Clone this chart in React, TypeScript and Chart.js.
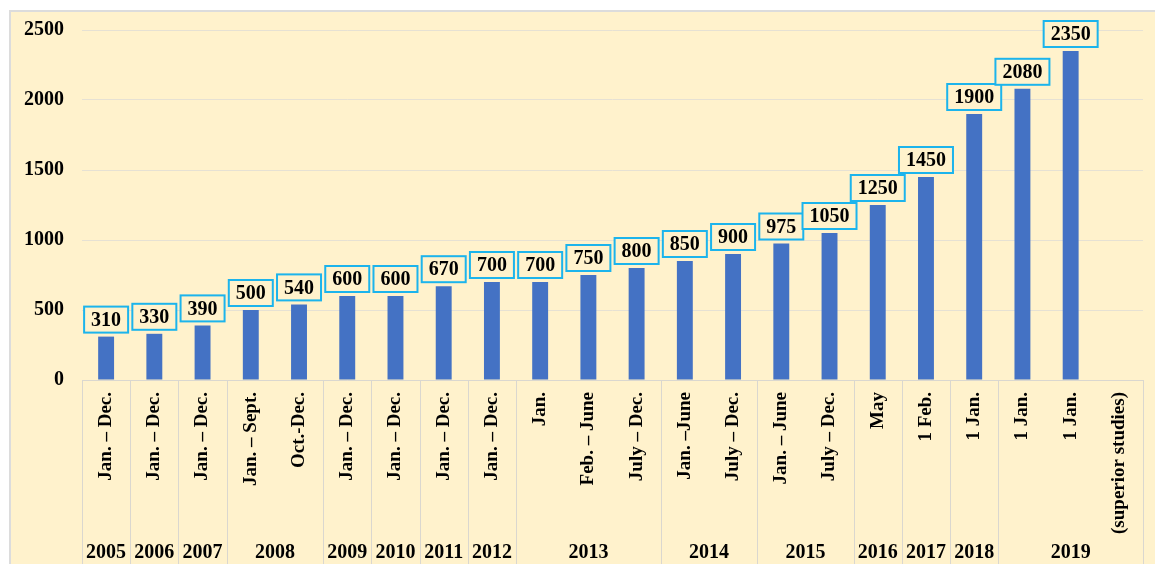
import React, { useEffect, useRef } from "react";
import { Chart, registerables } from "chart.js";
Chart.register(...registerables);

const periodLabels = [
  "Jan. – Dec.",
  "Jan. – Dec.",
  "Jan. – Dec.",
  "Jan. – Sept.",
  "Oct.-Dec.",
  "Jan. – Dec.",
  "Jan. – Dec.",
  "Jan. – Dec.",
  "Jan. – Dec.",
  "Jan.",
  "Feb. – June",
  "July – Dec.",
  "Jan. –June",
  "July – Dec.",
  "Jan. – June",
  "July – Dec.",
  "May",
  "1 Feb.",
  "1 Jan.",
  "1 Jan.",
  "1 Jan.",
  "(superior studies)",
];

const yearLabels = ["2005", "2006", "2007", "2008", "2009", "2010", "2011", "2012", "2013", "2014", "2015", "2016", "2017", "2018", "2019"];
const yearSpans = [1, 1, 1, 2, 1, 1, 1, 1, 3, 2, 2, 1, 1, 1, 3];

const values: (number | null)[] = [
  310, 330, 390, 500, 540, 600, 600, 670, 700, 700, 750, 800, 850, 900, 975, 1050, 1250, 1450, 1900, 2080, 2350, null,
];

const yMin = 0;
const yMax = 2500;
const yStep = 500;

const FONT = '"Liberation Serif", "Times New Roman", serif';
const CREAM = "#FFF2CC";
const BAR = "#4472C4";
const LINE = "#DAD7CF";
const BOX = "#1CB4EC";

const bgPlugin = {
  id: "bgPanel",
  beforeDraw(chart: any) {
    const { ctx, width, height } = chart;
    ctx.save();
    ctx.fillStyle = "#FFFFFF";
    ctx.fillRect(0, 0, width, height);
    ctx.fillStyle = CREAM;
    ctx.fillRect(10, 10, width - 10, height - 10);
    ctx.strokeStyle = "#DCDCDC";
    ctx.lineWidth = 2;
    ctx.beginPath();
    ctx.moveTo(10, height);
    ctx.lineTo(10, 11);
    ctx.lineTo(width, 11);
    ctx.stroke();
    ctx.restore();
  },
};

const labelsPlugin = {
  id: "valueBoxes",
  afterDatasetsDraw(chart: any) {
    const { ctx } = chart;
    const meta = chart.getDatasetMeta(0);
    ctx.save();
    ctx.font = `bold 20px ${FONT}`;
    ctx.textAlign = "center";
    ctx.textBaseline = "middle";
    meta.data.forEach((el: any, i: number) => {
      const v = values[i];
      if (v === null || v === undefined) return;
      const text = String(v);
      const tw = ctx.measureText(text).width;
      const bw = tw + 14;
      const bh = 26;
      const bottom = el.y - 4;
      const top = bottom - bh;
      const left = el.x - bw / 2;
      ctx.fillStyle = CREAM;
      ctx.fillRect(left, top, bw, bh);
      ctx.strokeStyle = BOX;
      ctx.lineWidth = 2;
      ctx.strokeRect(left, top, bw, bh);
      ctx.fillStyle = "#000";
      ctx.fillText(text, el.x, top + bh / 2 + 1);
    });
    ctx.restore();
  },
  afterDraw(chart: any) {
    const { ctx, chartArea, height } = chart;
    const xs = chart.scales.x;
    const n = periodLabels.length;
    const w = (xs.right - xs.left) / n;
    ctx.save();
    ctx.strokeStyle = LINE;
    ctx.lineWidth = 1;
    let idx = 0;
    const bounds = [0];
    yearSpans.forEach((s) => {
      idx += s;
      bounds.push(idx);
    });
    bounds.forEach((b) => {
      const x = Math.round(xs.left + b * w) + 0.5;
      ctx.beginPath();
      ctx.moveTo(x, chartArea.bottom);
      ctx.lineTo(x, height);
      ctx.stroke();
    });
    ctx.font = `bold 20px ${FONT}`;
    ctx.fillStyle = "#000";
    ctx.textAlign = "center";
    ctx.textBaseline = "middle";
    yearLabels.forEach((yl, i) => {
      const cx = xs.left + ((bounds[i] + bounds[i + 1]) / 2) * w;
      ctx.fillText(yl, cx, 553);
    });
    ctx.restore();
  },
};

export default function App() {
  const ref = useRef<HTMLCanvasElement>(null);
  useEffect(() => {
    if (!ref.current) return;
    const chart = new Chart(ref.current, {
      type: "bar",
      data: {
        labels: periodLabels,
        datasets: [
          {
            data: values as any,
            backgroundColor: BAR,
            borderWidth: 0,
            barPercentage: 0.33,
            categoryPercentage: 1,
          },
        ],
      },
      options: {
        responsive: false,
        animation: false,
        devicePixelRatio: 1,
        layout: { padding: { left: 10, right: 12, top: 30, bottom: 0 } },
        plugins: { legend: { display: false }, tooltip: { enabled: false }, title: { display: false } },
        scales: {
          x: {
            grid: { display: false, drawTicks: false },
            border: { display: true, color: LINE, width: 1 },
            ticks: {
              autoSkip: false,
              maxRotation: 90,
              minRotation: 90,
              padding: 12,
              color: "#000",
              font: { family: FONT, size: 19, weight: "bold" },
            },
            afterFit: (s: any) => {
              s.height = 184;
            },
          },
          y: {
            min: yMin,
            max: yMax,
            ticks: {
              stepSize: yStep,
              padding: 18,
              color: "#000",
              font: { family: FONT, size: 20, weight: "bold" },
              callback: (v: any) => String(v),
            },
            grid: { color: "#E6E1D3", drawTicks: false },
            border: { display: false },
            afterFit: (s: any) => {
              s.width = 72;
            },
          },
        },
      },
      plugins: [bgPlugin, labelsPlugin],
    });
    return () => chart.destroy();
  }, []);
  return (
    <div style={{ position: "fixed", left: 0, top: 0, width: 1155, height: 564 }}>
      <canvas ref={ref} width={1155} height={564} />
    </div>
  );
}
